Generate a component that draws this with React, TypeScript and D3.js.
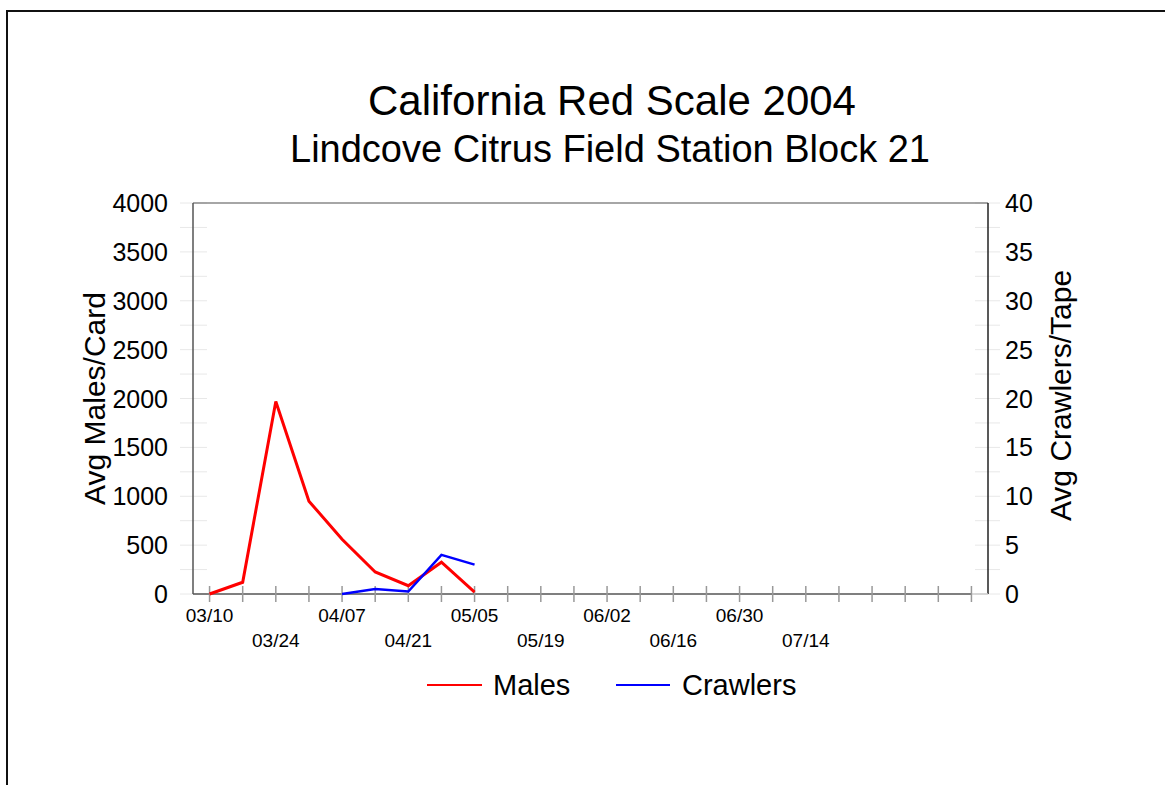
import React from "react";
import * as d3 from "d3";

const titleLine1 = "California Red Scale 2004";
const titleLine2 = "Lindcove Citrus Field Station Block 21";
const leftAxisTitle = "Avg Males/Card";
const rightAxisTitle = "Avg Crawlers/Tape";

const weekDates = [
  "03/10", "03/17", "03/24", "03/31", "04/07", "04/14", "04/21", "04/28",
  "05/05", "05/12", "05/19", "05/26", "06/02", "06/09", "06/16", "06/23",
  "06/30", "07/07", "07/14", "07/21", "07/28", "08/04", "08/11", "08/18",
];
const labeledDates = ["03/10", "03/24", "04/07", "04/21", "05/05", "05/19", "06/02", "06/16", "06/30", "07/14"];

const malesDates = ["03/10", "03/17", "03/24", "03/31", "04/07", "04/14", "04/21", "04/28", "05/05"];
const malesValues = [0, 120, 1970, 950, 560, 225, 85, 325, 20];

const crawlersDates = ["04/07", "04/14", "04/21", "04/28", "05/05"];
const crawlersValues = [0, 0.5, 0.25, 4.0, 3.0];

const leftTicks = [0, 500, 1000, 1500, 2000, 2500, 3000, 3500, 4000];
const rightTicks = [0, 5, 10, 15, 20, 25, 30, 35, 40];

const FONT = "Liberation Sans, Arial, Helvetica, sans-serif";

export default function App() {
  const left = 193, right = 988, top = 203, bottom = 594;
  const x = d3.scaleLinear().domain([-0.5, weekDates.length - 0.5]).range([left, right]);
  const yL = d3.scaleLinear().domain([0, 4000]).range([bottom, top]);
  const yR = d3.scaleLinear().domain([0, 40]).range([bottom, top]);
  const idx = (d: string) => weekDates.indexOf(d);

  const maleLine = d3.line<number>()
    .x((_, i) => x(idx(malesDates[i])))
    .y((v) => yL(v));
  const crawlLine = d3.line<number>()
    .x((_, i) => x(idx(crawlersDates[i])))
    .y((v) => yR(v));

  const leftMinor = d3.range(0, 4001, 250);
  const rightMinor = d3.range(0, 40.01, 2.5);

  return (
    <svg width={1165} height={785} style={{ position: "fixed", left: 0, top: 0, background: "#fff" }} fontFamily={FONT}>
      <rect x={0} y={0} width={1165} height={785} fill="#fff" />
      <rect x={7} y={11} width={1300} height={900} fill="none" stroke="#111" strokeWidth={2} />

      <text x={612} y={115} textAnchor="middle" fontSize={42}>{titleLine1}</text>
      <text x={610} y={162} textAnchor="middle" fontSize={38}>{titleLine2}</text>

      {leftMinor.map((v) => (
        <line key={"lm" + v} x1={180} x2={207} y1={yL(v)} y2={yL(v)} stroke="#e8e8e8" strokeWidth={1} />
      ))}
      {rightMinor.map((v) => (
        <line key={"rm" + v} x1={975} x2={1000} y1={yR(v)} y2={yR(v)} stroke="#e8e8e8" strokeWidth={1} />
      ))}

      <line x1={left} x2={right} y1={top} y2={top} stroke="#888" strokeWidth={1.5} />
      <line x1={left} x2={left} y1={top} y2={bottom} stroke="#555" strokeWidth={1.5} />
      <line x1={right} x2={right} y1={top} y2={bottom} stroke="#222" strokeWidth={1.5} />
      <line x1={left} x2={972} y1={bottom} y2={bottom} stroke="#555" strokeWidth={1.5} />
      <line x1={972} x2={right} y1={bottom} y2={bottom} stroke="#ccc" strokeWidth={1.5} />

      {weekDates.map((d, i) => (
        <line key={"xt" + d} x1={x(i)} x2={x(i)} y1={586} y2={602} stroke="#999" strokeWidth={1.5} />
      ))}
      {labeledDates.map((d, k) => (
        <text key={"xl" + d} x={x(idx(d))} y={k % 2 === 0 ? 622 : 647} textAnchor="middle" fontSize={19}>{d}</text>
      ))}

      {leftTicks.map((v) => (
        <text key={"yl" + v} x={168} y={yL(v) + 9} textAnchor="end" fontSize={25}>{v}</text>
      ))}
      {rightTicks.map((v) => (
        <text key={"yr" + v} x={1005} y={yR(v) + 9} textAnchor="start" fontSize={25}>{v}</text>
      ))}

      <text transform={`translate(105,${(top + bottom) / 2}) rotate(-90)`} textAnchor="middle" fontSize={30}>{leftAxisTitle}</text>
      <text transform={`translate(1071,${(top + bottom) / 2 - 3}) rotate(-90)`} textAnchor="middle" fontSize={30}>{rightAxisTitle}</text>

      <path d={maleLine(malesValues) || ""} fill="none" stroke="#ff0000" strokeWidth={3} strokeLinejoin="miter" />
      <path d={crawlLine(crawlersValues) || ""} fill="none" stroke="#0000ff" strokeWidth={2.5} />

      <line x1={427} x2={482} y1={685} y2={685} stroke="#ff0000" strokeWidth={2} />
      <text x={493} y={695} fontSize={29}>Males</text>
      <line x1={616} x2={670} y1={685} y2={685} stroke="#0000ff" strokeWidth={2} />
      <text x={682} y={695} fontSize={29}>Crawlers</text>
    </svg>
  );
}
